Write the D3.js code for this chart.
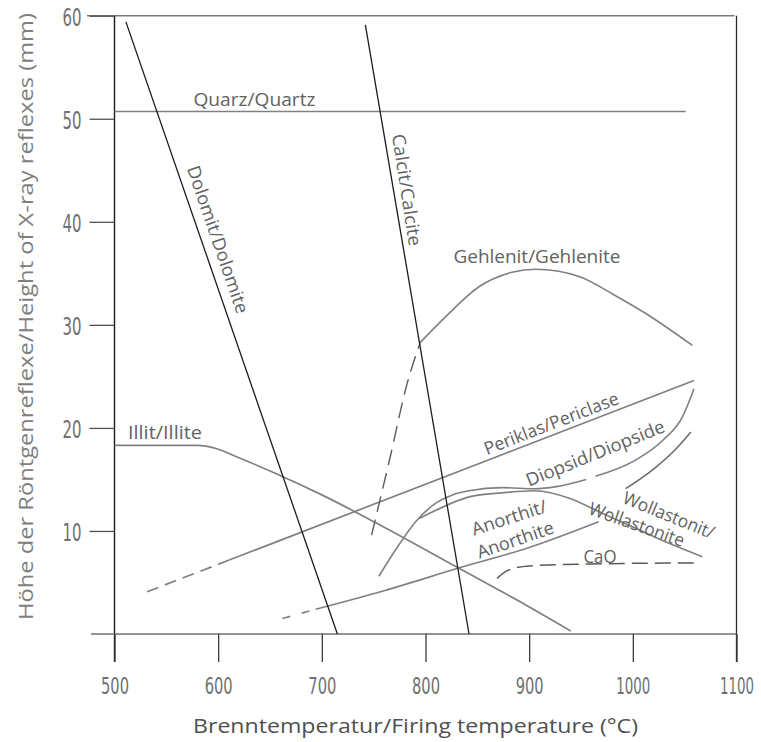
<!DOCTYPE html>
<html><head><meta charset="utf-8">
<script src="https://cdn.jsdelivr.net/npm/d3@7"></script>
<style>html,body{margin:0;padding:0;background:#fff;} svg{display:block}</style>
</head><body>
<svg id="chart" width="761" height="742"></svg>
<script>
// ---- data ----
const xTicks = [500, 600, 700, 800, 900, 1000, 1100];
const yTicks = [10, 20, 30, 40, 50, 60];
const xTitle = "Brenntemperatur/Firing temperature (°C)";
const yTitle = "Höhe der Röntgenreflexe/Height of X-ray reflexes (mm)";

const quarz = [[500, 50.7], [1051, 50.7]];
const dolomit = [[511, 59.4], [715, 0]];
const calcit = [[742, 59.1], [842, 0]];
const gehlenitDashed = [[748, 9.6], [766, 17.2], [782, 24.2], [795, 28.3]];
const gehlenit = [[795, 28.3], [819.5, 30.8], [851.6, 33.7], [883.5, 35.1], [906.4, 35.4], [948.2, 34.7], [980.3, 33.0], [1012.5, 31.1], [1057.5, 28.0]];
const illit = [[500, 18.3], [580, 18.3], [598, 18.0], [620, 17.1], [655, 15.6], [700, 13.5], [752, 10.8], [832, 6.4], [890, 3.2], [940, 0.3]];
const periklasDashed = [[531.5, 4.1], [610, 7.15]];
const periklas = [[610, 7.15], [1059, 24.6]];
const anorthitDashed = [[662, 1.5], [694, 2.4]];
const anorthit = [[694, 2.4], [760, 4.2], [832, 6.4], [900, 8.4], [967, 10.9]];
const diopsid = [[755, 5.6], [771, 8.15], [790.5, 10.9], [810, 12.7], [826, 13.5], [842, 13.9], [874, 14.2], [906, 14.1], [926, 14.3], [955, 15.0], null, [964, 15.3], [1003, 16.9], [1029, 18.8], [1048, 21.1], [1059, 23.8]];
const wollastonit = [[794, 11.2], [810, 12.0], [842, 13.3], [874, 13.7], [906, 13.9], [938, 13.2], [971, 11.7], [1003, 10.25], [1035, 8.8], [1067, 7.5]];
const wollastonitRise = [[993, 14.1], [1020, 16.0], [1042, 18.0], [1056, 19.6]];
const cao = [[869, 5.4], [880, 6.2], [900, 6.6], [960, 6.8], [1064, 6.9]];

// label texts with anchor in data units
const labelTexts = ["Quarz/Quartz", "Dolomit/Dolomite", "Calcit/Calcite", "Gehlenit/Gehlenite", "Illit/Illite",
  "Periklas/Periclase", "Diopsid/Diopside", "Wollastonit/", "Wollastonite", "Anorthit/", "Anorthite", "CaO"];
const labelAt = [[635, 51.25], [600.3, 38.3], [782.6, 43.1], [907.5, 36.0], [513, 18.9],
  [921.1, 20.5], [963.5, 17.6], [1035, 11.6], [1004, 10.7], [880.5, 11.35], [886.3, 9.2], [968.3, 6.9]];

// ---- layout / style ----
const labelStyle = [
  {rot: 0, len: 122, anchor: "middle", base: "alphabetic"},
  {rot: 71, len: 155, anchor: "middle", base: "central"},
  {rot: 81.3, len: 113, anchor: "middle", base: "central"},
  {rot: 0, len: 167, anchor: "middle", base: "alphabetic"},
  {rot: 0, len: 74, anchor: "start", base: "alphabetic"},
  {rot: -21.2, len: 143, anchor: "middle", base: "central"},
  {rot: -22, len: 148, anchor: "middle", base: "central"},
  {rot: 22, len: 97, anchor: "middle", base: "central"},
  {rot: 19.5, len: 100, anchor: "middle", base: "central"},
  {rot: -18, len: 78, anchor: "middle", base: "central"},
  {rot: -19, len: 80, anchor: "middle", base: "central"},
  {rot: 0, len: 33, anchor: "middle", base: "alphabetic"}
];

const svg = d3.select("#chart");
svg.append("rect").attr("width", 761).attr("height", 742).attr("fill", "#fff");

const x = d3.scaleLinear().domain([500, 1100]).range([114.5, 736.5]);
const y = d3.scaleLinear().domain([0, 60]).range([634, 15.7]);

const GRAY = "#808080", DARK = "#1c1c1c", TXT = "#626262";
const tickFont = "'Liberation Sans Narrow','DejaVu Sans Condensed','Liberation Sans',sans-serif";
const labFont = "'Open Sans','Noto Sans',sans-serif";

// frame
const frame = svg.append("g").attr("fill", "none");
frame.append("line").attr("x1", 87).attr("x2", x(1100) - 2).attr("y1", y(60)).attr("y2", y(60))
  .attr("stroke", "#7a7a7a").attr("stroke-width", 1.4);
frame.append("line").attr("x1", x(1100)).attr("x2", x(1100)).attr("y1", y(60)).attr("y2", y(0) + 28)
  .attr("stroke", "#2a2a2a").attr("stroke-width", 1.3);
frame.append("line").attr("x1", x(500)).attr("x2", x(500)).attr("y1", y(60)).attr("y2", y(0) + 28)
  .attr("stroke", "#1a1a1a").attr("stroke-width", 1.4);
frame.append("line").attr("x1", 91).attr("x2", x(1100)).attr("y1", y(0)).attr("y2", y(0))
  .attr("stroke", "#707070").attr("stroke-width", 1.6);

// axes
const gy = svg.append("g").attr("transform", `translate(${x(500)},0)`)
  .call(d3.axisLeft(y).tickValues(yTicks).tickFormat(d3.format("d")).tickSize(25).tickPadding(8).tickSizeOuter(0));
gy.select(".domain").remove();
gy.selectAll(".tick line").attr("stroke", "#505050").attr("stroke-width", 1.3);
gy.selectAll(".tick text").attr("font-family", tickFont).attr("font-size", 25).attr("fill", "#707070")
  .attr("dy", "0.4em").attr("textLength", 19).attr("lengthAdjust", "spacingAndGlyphs");

const gx = svg.append("g").attr("transform", `translate(0,${y(0)})`)
  .call(d3.axisBottom(x).tickValues(xTicks).tickFormat(d3.format("d")).tickSize(28).tickPadding(16).tickSizeOuter(0));
gx.select(".domain").remove();
gx.selectAll(".tick line").attr("stroke", "#3a3a3a").attr("stroke-width", 1.3);
gx.selectAll(".tick text").attr("font-family", tickFont).attr("font-size", 23).attr("fill", "#707070")
  .attr("textLength", d => d >= 1000 ? 34 : 28).attr("lengthAdjust", "spacingAndGlyphs");
// last label: anchor at its right edge so it stays inside the page
gx.selectAll(".tick text").filter(d => d === 1100)
  .attr("text-anchor", "end").attr("x", 17);

// axis titles
svg.append("text").attr("x", 415.5).attr("y", 733).attr("text-anchor", "middle")
  .attr("font-family", labFont).attr("font-size", 20).attr("fill", "#505050")
  .attr("textLength", 445).attr("lengthAdjust", "spacingAndGlyphs").text(xTitle);
svg.append("text").attr("transform", "translate(25,316.5) rotate(-90)").attr("text-anchor", "middle")
  .attr("dominant-baseline", "central")
  .attr("font-family", labFont).attr("font-size", 20).attr("fill", "#7e7e7e")
  .attr("textLength", 607).attr("lengthAdjust", "spacingAndGlyphs").text(yTitle);

// series
const lineLin = d3.line().defined(d => d !== null).x(d => x(d[0])).y(d => y(d[1]));
const lineSm = d3.line().defined(d => d !== null).x(d => x(d[0])).y(d => y(d[1])).curve(d3.curveMonotoneX);

const series = [
  {d: quarz, gen: lineLin, c: GRAY, w: 1.6},
  {d: illit, gen: lineSm, c: GRAY, w: 1.7},
  {d: periklasDashed, gen: lineLin, c: GRAY, w: 1.7, dash: "12,7"},
  {d: periklas, gen: lineLin, c: GRAY, w: 1.7},
  {d: anorthitDashed, gen: lineLin, c: GRAY, w: 1.7, dash: "8,12"},
  {d: anorthit, gen: lineSm, c: GRAY, w: 1.7},
  {d: gehlenitDashed, gen: lineSm, c: "#5a5a5a", w: 1.4, dash: "16,8"},
  {d: gehlenit, gen: lineSm, c: GRAY, w: 1.6},
  {d: diopsid, gen: lineSm, c: GRAY, w: 1.6},
  {d: wollastonit, gen: lineSm, c: GRAY, w: 1.7},
  {d: wollastonitRise, gen: lineSm, c: "#6a6a6a", w: 1.5},
  {d: cao, gen: lineSm, c: "#5a5a5a", w: 1.5, dash: "16,7"},
  {d: dolomit, gen: lineLin, c: DARK, w: 1.3},
  {d: calcit, gen: lineLin, c: DARK, w: 1.3}
];
svg.append("g").selectAll("path").data(series).join("path")
  .attr("d", s => s.gen(s.d)).attr("fill", "none")
  .attr("stroke", s => s.c).attr("stroke-width", s => s.w)
  .attr("stroke-dasharray", s => s.dash || null).attr("stroke-linecap", "butt");

// labels
svg.append("g").selectAll("text").data(labelTexts).join("text")
  .attr("transform", (t, i) => `translate(${x(labelAt[i][0])},${y(labelAt[i][1])}) rotate(${labelStyle[i].rot})`)
  .attr("text-anchor", (t, i) => labelStyle[i].anchor)
  .attr("dominant-baseline", (t, i) => labelStyle[i].base)
  .attr("font-family", labFont).attr("font-size", 18).attr("fill", TXT)
  .attr("textLength", (t, i) => labelStyle[i].len).attr("lengthAdjust", "spacingAndGlyphs")
  .text(t => t);
</script>
</body></html>
